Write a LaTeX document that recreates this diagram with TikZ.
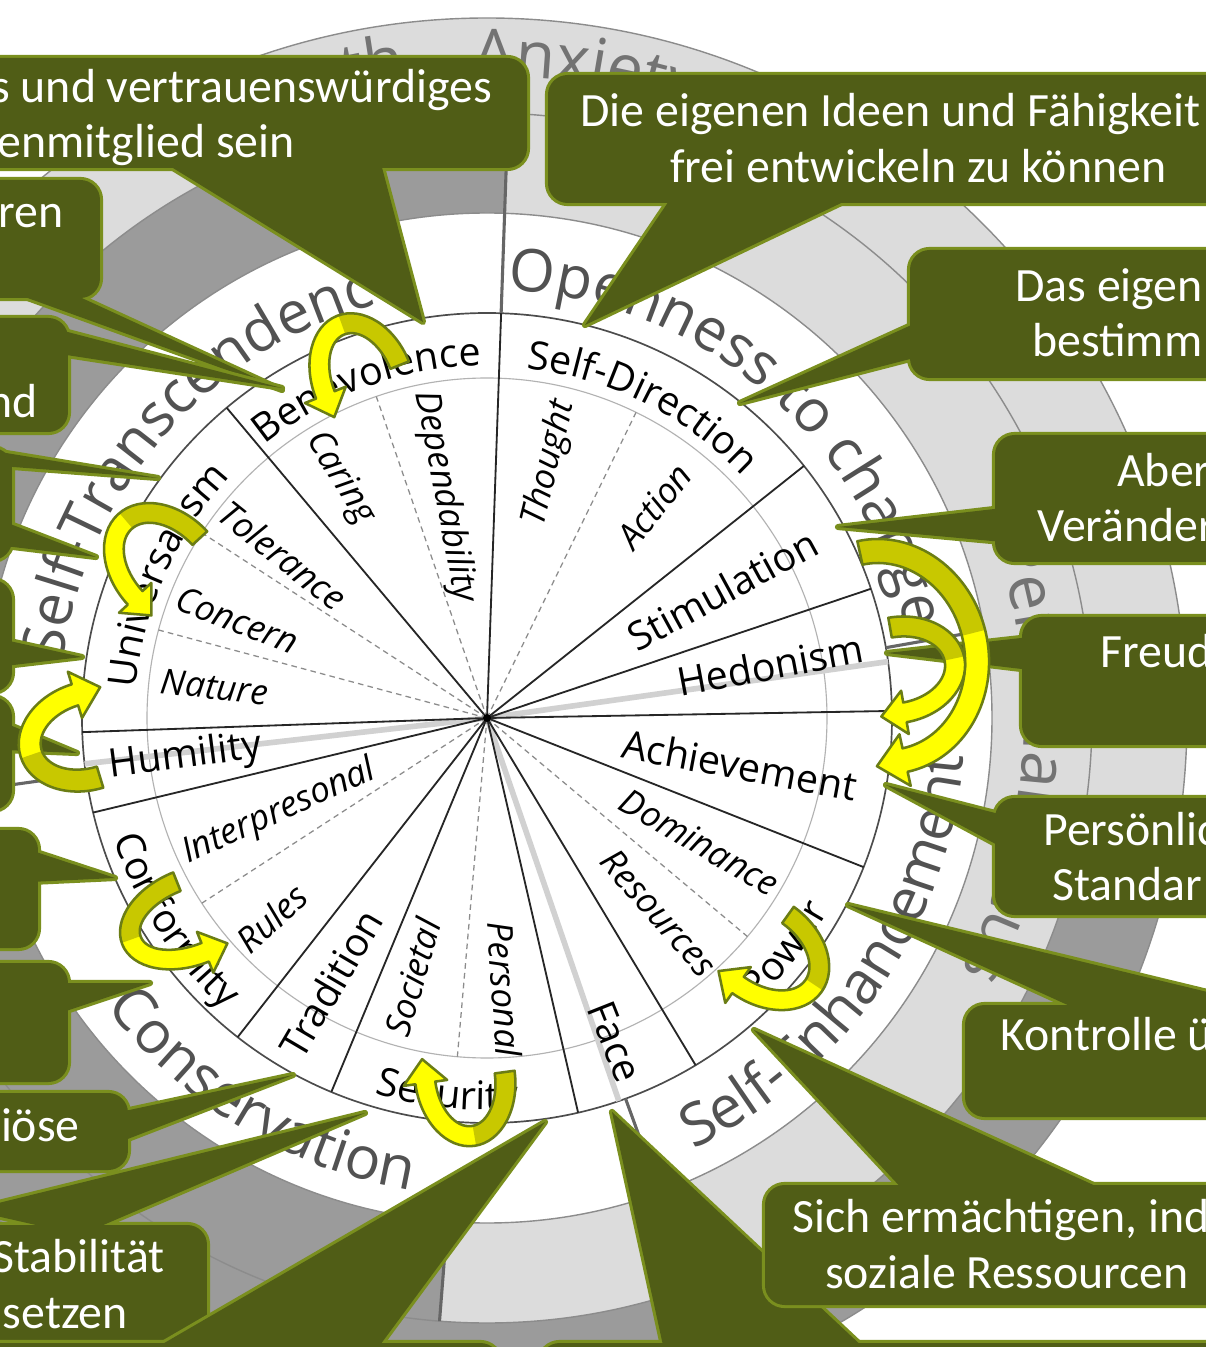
\documentclass[tikz,border=0pt]{standalone}
\usepackage{fontspec}
\setmainfont{Carlito}
\newfontfamily\wheelfont{Open Sans}
\usetikzlibrary{decorations.text}

\definecolor{calloutfill}{HTML}{505D16}
\definecolor{calloutedge}{HTML}{7A8F1E}
\definecolor{ringdark}{HTML}{9B9B9B}
\definecolor{ringlight}{HTML}{DCDCDC}
\definecolor{arrowbright}{HTML}{FFFF00}
\definecolor{arrowdark}{HTML}{C8C800}
\definecolor{arrowedge}{HTML}{6B7D14}

\newcommand{\valuefont}{\wheelfont\fontsize{28}{30}\selectfont}
\newcommand{\orderfont}{\color{black!68}\wheelfont\fontsize{42}{44}\selectfont}
\newcommand{\focusfont}{\color{black!55}\wheelfont\fontsize{46}{48}\selectfont}

\tikzset{
  spoke/.style={black!85, line width=1.3pt},
  subspoke/.style={black!45, dash pattern=on 4pt off 3pt, line width=0.9pt},
  softspoke/.style={black!18, line width=4pt},
  ringline/.style={black!45, line width=1pt},
  divider/.style={black!60, line width=2.2pt},
  valuelabel/.style={font=\valuefont, inner sep=0pt},
  sublabel/.style={font=\wheelfont\itshape\fontsize{25}{27}\selectfont, inner sep=0pt},
  callouttext/.style={text=white, font=\fontsize{34}{40}\selectfont, inner sep=0pt},
  bubbleline/.style={draw=calloutedge, line width=4.4pt, line join=round},
  arrowline/.style={draw=arrowedge, line width=1.8pt, line join=round},
  ringtext/.style={decorate, decoration={text along path, text align=center, text={#1}}}
}

% callout: box corners, then the pointer wedges
\newcommand{\bubble}[3]{%
  \draw[bubbleline, rounded corners=14pt] #1 rectangle #2;
  \draw[bubbleline] #3;
  \fill[calloutfill, rounded corners=14pt] #1 rectangle #2;
  \fill[calloutfill] #3;}

% outline of a curved block arrow: x radius, y radius, band width
\newcommand{\arrowoutline}[3]{(#1,0) arc[start angle=0, end angle=180, x radius=#1, y radius=#2]
  -- ++({-0.6*#3},0) -- ++({1.1*#3},{-1.2*#3}) -- ++({1.1*#3},{1.2*#3}) -- ++({-0.6*#3},0)
  arc[start angle=180, end angle=0, x radius={#1-#3}, y radius={#2-#3}] -- cycle}

% curved block arrow: centre, rotation, flip, x radius, y radius, band width
\newcommand{\yarrow}[6]{%
  \begin{scope}[shift={#1}, rotate=#2, yscale=#3]
    \fill[arrowbright] \arrowoutline{#4}{#5}{#6};
    \fill[arrowdark] (#4,0) arc[start angle=0, end angle=88, x radius=#4, y radius=#5]
      -- ({(#4-#6)*cos(88)},{(#5-#6)*sin(88)})
      arc[start angle=88, end angle=0, x radius={#4-#6}, y radius={#5-#6}] -- cycle;
    \draw[arrowline] \arrowoutline{#4}{#5}{#6};
  \end{scope}}

\begin{document}
\begin{tikzpicture}[x=0.025cm, y=0.025cm]
\useasboundingbox (-487,-629) rectangle (718,718);

% outer rings
\fill[ringlight] (-15:605) arc[start angle=-15, end angle=188, radius=605] -- (188:700)
  arc[start angle=188, end angle=-15, radius=700] -- cycle;
\fill[ringdark] (188:605) arc[start angle=188, end angle=345, radius=605] -- (345:700)
  arc[start angle=345, end angle=188, radius=700] -- cycle;
\fill[ringdark] (88:505) arc[start angle=88, end angle=265.5, radius=505] -- (265.5:605)
  arc[start angle=265.5, end angle=88, radius=605] -- cycle;
\fill[ringlight] (265.5:505) arc[start angle=265.5, end angle=448, radius=505] -- (448:605)
  arc[start angle=448, end angle=265.5, radius=605] -- cycle;
\fill[white] (0,0) circle[radius=505];
\foreach \r in {505,605,700}
  \draw[ringline] (0,0) circle[radius=\r];
\draw[black!70, line width=1.2pt] (0,0) circle[radius=405];
\draw[black!30, line width=0.8pt] (0,0) circle[radius=340];

% dividers
\foreach \a in {10,188,-70}
  \draw[divider] (\a:405) -- (\a:505);
\draw[divider] (88:405) -- (88:605);
\draw[divider] (265.5:505) -- (265.5:605);

% spokes
\foreach \a in {8,186.5,-71}
  \draw[softspoke] (0,0) -- (\a:405);
\foreach \a in {88,38.5,18.6,1,-21.6,-59,-77,247.4,232,193.5,182,130}
  \draw[spoke] (0,0) -- (\a:405);
\foreach \a in {109,64,-40,265,213,165,147}
  \draw[subspoke] (0,0) -- (\a:340);
\fill (0,0) circle[radius=4];

% values
\foreach \txt/\ang/\rad/\rot in {Stimulation/28.6/268/28.6, Hedonism/10.6/288/10.6,
    Achievement/-10.5/257/-10.5, Face/-68.4/348/-68.4, Tradition/239.5/308/59.5,
    Humility/187.4/304/7.4}
  \node[valuelabel, rotate=\rot] (val-\txt) at (\ang:\rad) {\txt};
\foreach \txt/\ang/\rad/\rot in {Thought/76.2/262/76.2, Action/51.7/270/51.7,
    Dominance/-30.2/246/-30.2, Resources/-48.6/260/-48.6, Personal/-86.2/272/-86.2,
    Societal/254/270/74, Rules/222.9/294/42.9, Interpresonal/204.4/228/24.4,
    Nature/173.5/274/-6.5, Concern/158.6/268/-21.4, Tolerance/141.4/261/-38.6,
    Caring/121.5/281/-58.5, Dependability/100.8/225/-79.2}
  \node[sublabel, rotate=\rot] (sub-\txt) at (\ang:\rad) {\txt};

\path[ringtext={|\valuefont|Benevolence}] (132:352) arc[start angle=132, end angle=88, radius=352];
\path[ringtext={|\valuefont|Self-Direction}] (87:352) arc[start angle=87, end angle=40, radius=352];
\path[ringtext={|\valuefont|Universalism}] (180:352) arc[start angle=180, end angle=132, radius=352];
\path[ringtext={|\valuefont|Conformity}] (193:392) arc[start angle=193, end angle=233, radius=392];
\path[ringtext={|\valuefont|Security}] (247:392) arc[start angle=247, end angle=281, radius=392];
\path[ringtext={|\valuefont|Power}] (-58:392) arc[start angle=-58, end angle=-18, radius=392];

% higher order values
\path[ringtext={|\orderfont|Self-Transcendence}] (180:428) arc[start angle=180, end angle=93, radius=428];
\path[ringtext={|\orderfont|Openness to change}] (90:428) arc[start angle=90, end angle=9, radius=428];
\path[ringtext={|\orderfont|Self-Enhancement}] (-69:478) arc[start angle=-69, end angle=0, radius=478];
\path[ringtext={|\orderfont|Conservation}] (214:478) arc[start angle=214, end angle=264, radius=478];
\path[ringtext={|\focusfont|Growth – Anxiety-free}] (125:642) arc[start angle=125, end angle=51, radius=642];
\path[ringtext={|\focusfont|Personal focus}] (20:537) arc[start angle=20, end angle=-29, radius=537];

% callouts, in pixel coordinates
\begin{scope}[shift={(-487,718)}, yscale=-1]
  \bubble{(-30,180)}{(100,298)}{(0,288) -- (60,288) -- (282,390) -- cycle}
  \bubble{(-30,318)}{(68,432)}{(60,330) -- (60,354) -- (282,388) -- cycle}
  \bubble{(-30,448)}{(12,560)}{(0,452) -- (0,466) -- (158,478) -- cycle
    (5,522) -- (5,546) -- (96,557) -- cycle}
  \bubble{(-30,580)}{(12,692)}{(5,640) -- (5,666) -- (82,657) -- cycle}
  \bubble{(-30,697)}{(12,810)}{(5,723) -- (5,750) -- (77,753) -- cycle}
  \bubble{(-30,830)}{(38,948)}{(30,850) -- (30,882) -- (115,878) -- cycle}
  \bubble{(-30,963)}{(68,1082)}{(60,983) -- (60,1013) -- (150,983) -- cycle}
  \bubble{(-30,1093)}{(128,1170)}{(120,1112) -- (120,1142) -- (293,1075) -- cycle}
  \bubble{(-30,1225)}{(207,1340)}{(-30,1210) -- (80,1235) -- (365,1113) -- cycle}
  \bubble{(-30,1343)}{(500,1420)}{(135,1360) -- (369,1360) -- (545,1122) -- cycle}
  \bubble{(-30,58)}{(527,168)}{(160,160) -- (380,160) -- (423,322) -- cycle}
  \bubble{(548,75)}{(1240,203)}{(673,195) -- (858,195) -- (585,325) -- cycle}
  \bubble{(910,250)}{(1240,378)}{(918,322) -- (918,357) -- (740,403) -- cycle}
  \bubble{(995,435)}{(1240,562)}{(1003,508) -- (1003,542) -- (838,527) -- cycle}
  \bubble{(1022,617)}{(1240,745)}{(1030,637) -- (1030,670) -- (887,653) -- cycle}
  \bubble{(995,798)}{(1240,915)}{(1003,815) -- (1003,848) -- (886,785) -- cycle}
  \bubble{(965,1005)}{(1240,1117)}{(1083,1012) -- (1290,1012) -- (848,905) -- cycle}
  \bubble{(540,1343)}{(1240,1420)}{(664,1350) -- (866,1350) -- (612,1112) -- cycle}
  \bubble{(765,1185)}{(1240,1305)}{(906,1193) -- (1111,1193) -- (754,1030) -- cycle}

  \node[callouttext, anchor=base east] (trust1) at (492,103) {s und vertrauenswürdiges};
  \node[callouttext, anchor=base east] (trust2) at (295,158) {enmitglied sein};
  \node[callouttext, anchor=base east] (care) at (64,228) {ren};
  \node[callouttext, anchor=base east] (fair) at (38,418) {nd};
  \node[callouttext, anchor=base east] (faith) at (80,1141) {iöse};
  \node[callouttext, anchor=base east] (stable1) at (165,1272) {Stabilität};
  \node[callouttext, anchor=base east] (stable2) at (128,1328) {setzen};
  \node[callouttext, anchor=base west] (ideas1) at (580,127) {Die eigenen Ideen und Fähigkeit};
  \node[callouttext, anchor=base west] (ideas2) at (670,183) {frei entwickeln zu können};
  \node[callouttext, anchor=base west] (own1) at (1015,302) {Das eigen};
  \node[callouttext, anchor=base west] (own2) at (1032,357) {bestimm};
  \node[callouttext, anchor=base west] (thrill1) at (1117,487) {Aber};
  \node[callouttext, anchor=base west] (thrill2) at (1037,542) {Veränder};
  \node[callouttext, anchor=base west] (joy) at (1100,668) {Freud};
  \node[callouttext, anchor=base west] (goal1) at (1043,845) {Persönlic};
  \node[callouttext, anchor=base west] (goal2) at (1052,900) {Standar};
  \node[callouttext, anchor=base west] (control) at (1000,1050) {Kontrolle ü};
  \node[callouttext, anchor=base west] (wealth1) at (792,1232) {Sich ermächtigen, ind};
  \node[callouttext, anchor=base west] (wealth2) at (825,1288) {soziale Ressourcen};
\end{scope}

% yellow arrows
\yarrow{(-124.5,338)}{21.8}{1}{50}{69}{20}
\yarrow{(-319.5,150)}{42.7}{1}{54}{73}{20}
\yarrow{(-399.5,-18)}{-73}{-1}{54}{70}{22}
\yarrow{(-296,-199)}{111.8}{1}{48}{74}{20}
\yarrow{(-22,-359.5)}{7.8}{-1}{50}{69}{20}
\yarrow{(276,-232)}{54.5}{-1}{53}{72}{20}
\yarrow{(395.5,61.5)}{102.3}{-1}{118}{106}{24}
\yarrow{(410.5,48)}{100}{-1}{53}{68}{20}
\end{tikzpicture}
\end{document}
